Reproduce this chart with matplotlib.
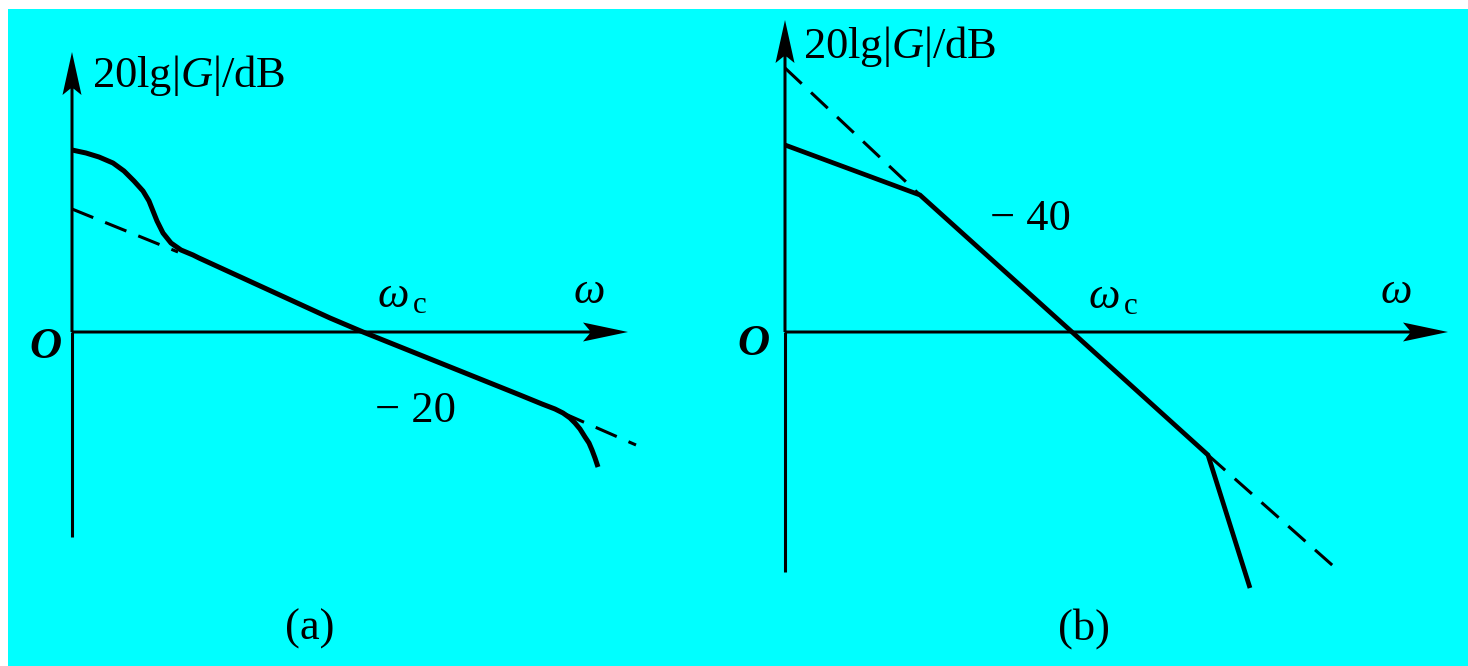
import matplotlib
matplotlib.use("Agg")
import matplotlib.pyplot as plt

plt.rcParams["font.family"] = "Liberation Serif"
plt.rcParams["mathtext.fontset"] = "custom"
plt.rcParams["mathtext.rm"] = "Liberation Serif"
plt.rcParams["mathtext.it"] = "Liberation Serif:italic"

BG = "#00FFFF"
FS = 32

# (a) magnitude curve, smooth at both ends, origin at O
curve_a_x = [0, 14, 27, 41, 52, 62, 71, 77, 81, 85, 91, 99, 109, 121, 127,
             258, 291, 448, 470, 483, 491, 498, 503, 508, 513, 517, 520, 523, 526]
curve_a_y = [182, 179, 175, 169, 161, 151, 141, 131, 121, 111, 99, 89, 82, 77, 74,
             14, 0, -63, -72, -77, -81, -86, -91, -97, -105, -111, -118, -126, -135]
# (a) -20 dB/dec asymptote extensions
asym_a_lo_x = [0, 106]
asym_a_lo_y = [123, 80]
asym_a_hi_x = [491, 564]
asym_a_hi_y = [-81, -113]

# (b) broken-line magnitude
curve_b_x = [0, 135, 287, 423, 465]
curve_b_y = [187, 137, 0, -123, -256]
# (b) -40 dB/dec asymptote extensions
asym_b_lo_x = [0, 135]
asym_b_lo_y = [264, 137]
asym_b_hi_x = [423, 555]
asym_b_hi_y = [-123, -240]

# axis extents (from O): y-axis bottom/top, x-axis end
axis_a = (-205, 280, 556)
axis_b = (-240, 312, 663)

fig = plt.figure(figsize=(14.68, 6.66), dpi=100, facecolor="white")
ax_a = fig.add_axes([8 / 1468, 0, 726 / 1468, 657 / 666])
ax_b = fig.add_axes([734 / 1468, 0, 734 / 1468, 657 / 666])
ax_a.set_xlim(-64, 662)
ax_b.set_xlim(-51, 683)
for ax in (ax_a, ax_b):
    ax.set_ylim(-334, 323)
    ax.set_facecolor(BG)
    ax.set_xticks([])
    ax.set_yticks([])
    for s in ax.spines.values():
        s.set_visible(False)


def draw_axes(ax, ext):
    ybot, ytop, xend = ext
    ax.plot([0, 0], [ybot, 0], color="k", lw=2.2, solid_capstyle="butt")
    ax.arrow(0, 0, 0, ytop, width=3, head_width=19, head_length=43,
             length_includes_head=True, overhang=0.15, color="k", lw=0)
    ax.arrow(0, 0, xend, 0, width=3, head_width=19, head_length=45,
             length_includes_head=True, overhang=0.15, color="k", lw=0)


dash = (0, (7.5, 4.2))

draw_axes(ax_a, axis_a)
ax_a.plot(asym_a_lo_x, asym_a_lo_y, color="k", lw=2.2, linestyle=dash)
ax_a.plot(asym_a_hi_x, asym_a_hi_y, color="k", lw=2.2, linestyle=dash)
ax_a.plot(curve_a_x, curve_a_y, color="k", lw=3.6,
          solid_joinstyle="round", solid_capstyle="butt")

draw_axes(ax_b, axis_b)
ax_b.plot(asym_b_lo_x, asym_b_lo_y, color="k", lw=2.2, linestyle=dash)
ax_b.plot(asym_b_hi_x, asym_b_hi_y, color="k", lw=2.2, linestyle=dash)
ax_b.plot(curve_b_x, curve_b_y, color="k", lw=3.4,
          solid_joinstyle="miter", solid_capstyle="butt")

# labels
ax_a.text(20, 245, "20lg|$G$|/dB", fontsize=FS, ha="left", va="baseline")
ax_a.text(-27, -26, "O", fontsize=FS, style="italic", weight="bold", ha="center", va="baseline")
ax_a.text(305, 25, r"$\omega_{\,\mathrm{c}}$", fontsize=FS, ha="left", va="baseline")
ax_a.text(501, 29, r"$\omega$", fontsize=FS, ha="left", va="baseline")
ax_a.text(303, -90, "\u2212 20", fontsize=FS, ha="left", va="baseline")
ax_a.text(238, -308, "(a)", fontsize=FS, ha="center", va="baseline")

ax_b.text(18, 274, "20lg|$G$|/dB", fontsize=FS, ha="left", va="baseline")
ax_b.text(-32, -23, "O", fontsize=FS, style="italic", weight="bold", ha="center", va="baseline")
ax_b.text(303, 24, r"$\omega_{\,\mathrm{c}}$", fontsize=FS, ha="left", va="baseline")
ax_b.text(595, 29, r"$\omega$", fontsize=FS, ha="left", va="baseline")
ax_b.text(205, 102, "\u2212 40", fontsize=FS, ha="left", va="baseline")
ax_b.text(299, -308, "(b)", fontsize=FS, ha="center", va="baseline")

fig.savefig("out.png", dpi=100, facecolor="white")
